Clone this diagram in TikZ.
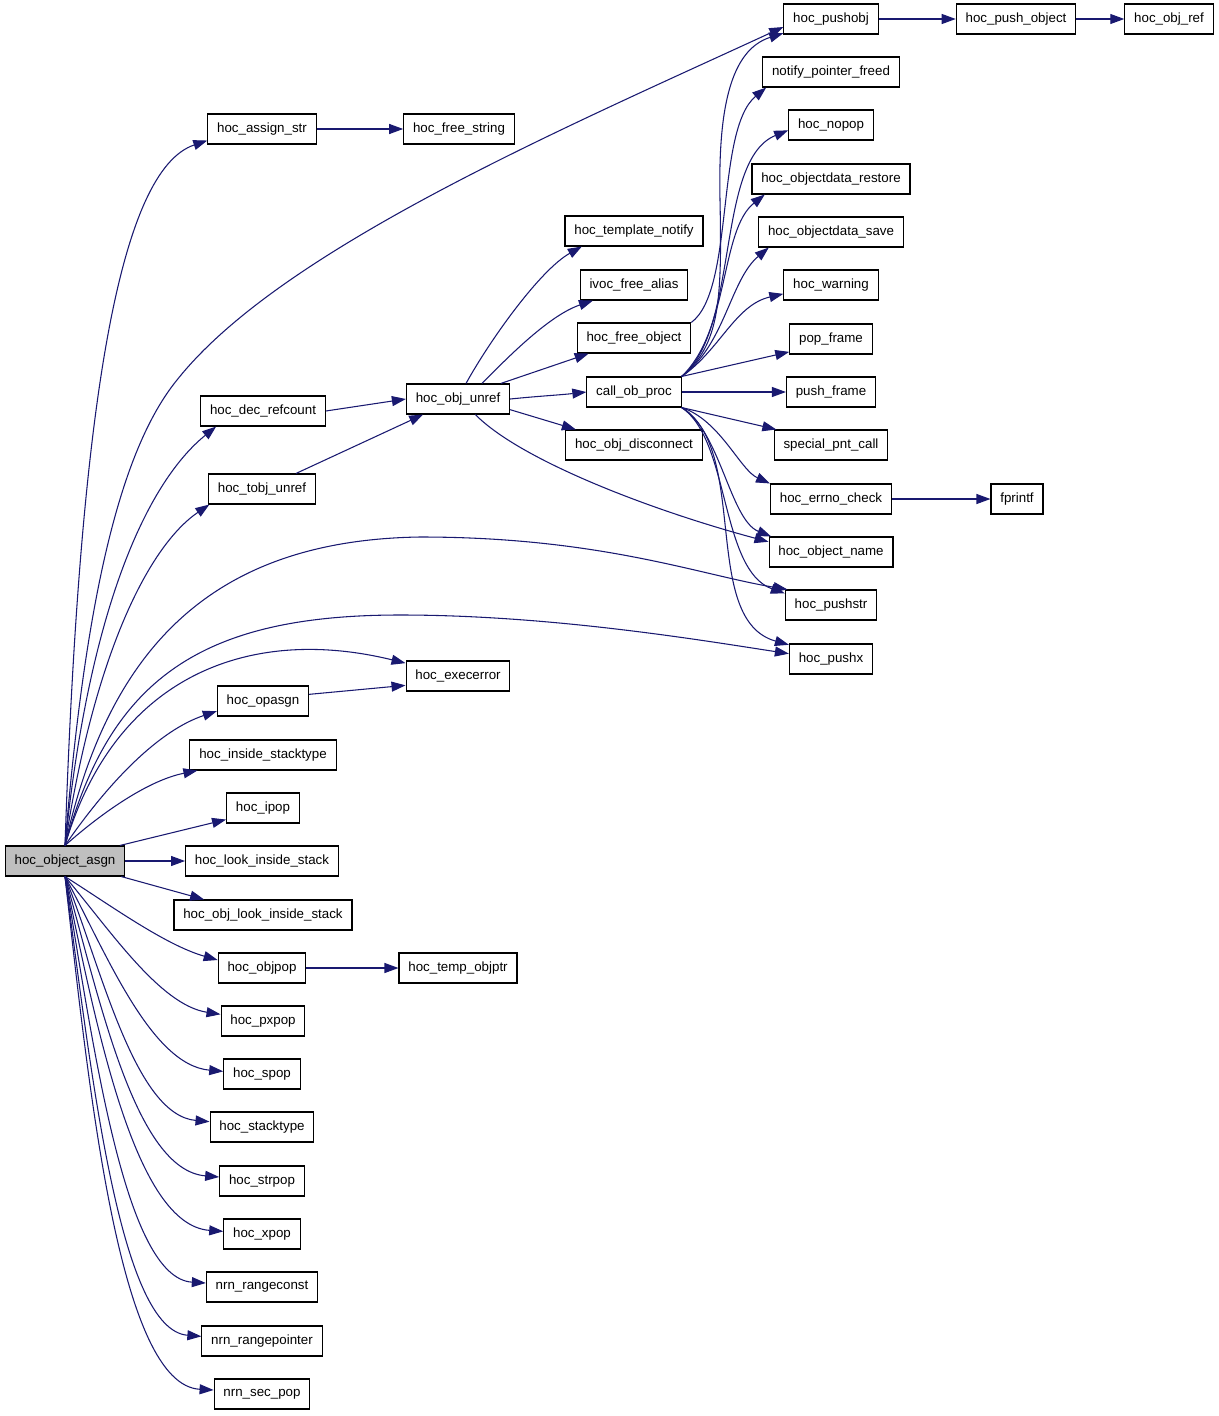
\documentclass[tikz,border=0pt]{standalone}
\usepackage{fontspec}
\setmainfont{Liberation Sans}
\usetikzlibrary{arrows.meta}
\definecolor{edgeblue}{HTML}{191970}
\definecolor{rootgray}{HTML}{BFBFBF}

\begin{document}
\begin{tikzpicture}[x=0.75pt,y=-0.75pt,
  fn/.style={draw=black, line width=0.8pt, fill=white, minimum height=22.5pt,
    inner xsep=7pt, inner ysep=0pt, font=\fontsize{10}{12}\selectfont},
  root/.style={fn, fill=rootgray},
  call/.style={draw=edgeblue, line width=0.8pt, -{Triangle[length=10.5pt,width=7.5pt]}}]
\useasboundingbox (0,0) rectangle (1219,1416);

%NODES
%Root
\node[root] (asgn) at (65,861) {hoc\_object\_asgn};

%Column 2
\foreach \n/\x/\y/\t in {assignstr/262/129/hoc\_assign\_str, decrefcount/263/411/hoc\_dec\_refcount,
  tobjunref/262/489/hoc\_tobj\_unref, opasgn/263/701/hoc\_opasgn,
  insidestacktype/263/755/hoc\_inside\_stacktype, ipop/263/808/hoc\_ipop,
  lookinside/262/861/hoc\_look\_inside\_stack, objlookinside/263/915/hoc\_obj\_look\_inside\_stack,
  objpop/262/968/hoc\_objpop, pxpop/263/1021/hoc\_pxpop, spop/262/1074/hoc\_spop,
  stacktype/262/1127/hoc\_stacktype, strpop/262/1181/hoc\_strpop, xpop/262/1234/hoc\_xpop,
  rangeconst/262/1287/nrn\_rangeconst, rangepointer/262/1341/nrn\_rangepointer,
  secpop/262/1394/nrn\_sec\_pop}
  \node[fn] (\n) at (\x,\y) {\t};

%Column 3
\node[fn] (freestring) at (459,129) {hoc\_free\_string};
\node[fn] (objunref) at (458,399) {hoc\_obj\_unref};
\node[fn] (execerror) at (458,676) {hoc\_execerror};
\node[fn] (tempobjptr) at (458,968) {hoc\_temp\_objptr};

%Column 4
\foreach \n/\y/\t in {templatenotify/231/hoc\_template\_notify, freealias/285/ivoc\_free\_alias,
  freeobject/338/hoc\_free\_object, callobproc/392/call\_ob\_proc,
  objdisconnect/445/hoc\_obj\_disconnect}
  \node[fn] (\n) at (634,\y) {\t};

%Column 5
\foreach \n/\y/\t in {pushobj/19/hoc\_pushobj, notifyfreed/72/notify\_pointer\_freed,
  nopop/125/hoc\_nopop, odrestore/179/hoc\_objectdata\_restore,
  odsave/232/hoc\_objectdata\_save, warning/285/hoc\_warning, popframe/339/pop\_frame,
  pushframe/392/push\_frame, specialpnt/445/special\_pnt\_call,
  errnocheck/499/hoc\_errno\_check, objectname/552/hoc\_object\_name,
  pushstr/605/hoc\_pushstr, pushx/659/hoc\_pushx}
  \node[fn] (\n) at (831,\y) {\t};

%Columns 6 and 7
\node[fn] (pushobject) at (1016,19) {hoc\_push\_object};
\node[fn] (objref) at (1169,19) {hoc\_obj\_ref};
\node[fn] (fprintf) at (1017,499) {fprintf};

%EDGES
%Straight calls
\foreach \a/\b in {assignstr/freestring, pushobj/pushobject, pushobject/objref,
  errnocheck/fprintf, objpop/tempobjptr, asgn/lookinside, callobproc/pushframe,
  decrefcount/objunref}
  \draw[call] (\a.east) -- (\b.west);
\draw[call] ([xshift=-15pt]tobjunref.north east) -- ([xshift=13pt]objunref.south west);
\draw[call] ([yshift=5pt]opasgn.east) -- ([yshift=-7pt]execerror.west);
\draw[call] ([xshift=-4pt]asgn.north east) -- ([yshift=3pt]ipop.south west);
\draw[call] ([xshift=-3pt]asgn.south east) -- ([xshift=23pt]objlookinside.north west);

%Root, upwards
\draw[call] (asgn.north) .. controls (80,400) and (120,170) .. ([yshift=3pt]assignstr.south west);
\draw[call] (asgn.north) .. controls (85,600) and (120,450) .. (177,380)
  .. controls (280,250) and (560,130) .. ([yshift=-6pt]pushobj.west);
\draw[call] (asgn.north) .. controls (90,600) and (150,480) .. ([xshift=12pt]decrefcount.south west);
\draw[call] (asgn.north) .. controls (95,650) and (150,545) .. ([xshift=1pt]tobjunref.south west);
\draw[call] (asgn.north) .. controls (110,640) and (220,540) .. (420,537)
  .. controls (600,537) and (700,575) .. ([xshift=2pt]pushstr.north west);
\draw[call] (asgn.north) .. controls (110,680) and (200,615) .. (400,615)
  .. controls (550,615) and (700,640) .. ([yshift=4pt]pushx.west);
\draw[call] (asgn.north) .. controls (115,675) and (250,625) .. ([yshift=-2pt]execerror.north west);
\draw[call] (asgn.north) .. controls (110,780) and (160,730) .. ([yshift=4pt]opasgn.south west);
\draw[call] (asgn.north) .. controls (105,810) and (150,780) .. ([xshift=6pt]insidestacktype.south west);

%Root, downwards
\foreach \n/\ax/\ay/\bx/\by/\s in {objpop/110/905/165/945/6, pxpop/110/930/160/1005/5,
  spop/105/950/150/1065/2, stacktype/102/970/135/1115/4, strpop/100/1000/135/1170/3,
  xpop/97/1030/135/1225/2, rangeconst/94/1050/125/1278/3,
  rangepointer/92/1080/120/1330/3.5, secpop/90/1100/120/1385/3}
  \draw[call] (asgn.south) .. controls (\ax,\ay) and (\bx,\by) .. ([yshift=\s pt]\n.west);

%hoc_obj_unref
\draw[call] ([xshift=6pt]objunref.north) .. controls (490,340) and (540,270) .. ([xshift=13pt]templatenotify.south west);
\draw[call] ([xshift=18pt]objunref.north) .. controls (510,355) and (550,315) .. ([xshift=10pt]freealias.south west);
\draw[call] ([xshift=-7pt]objunref.north east) -- ([xshift=9pt]freeobject.south west);
\draw[call] (objunref.east) .. controls (540,396) and (560,395) .. (callobproc.west);
\draw[call] ([yshift=-8pt]objunref.east) -- ([xshift=8pt]objdisconnect.north west);
\draw[call] ([xshift=13pt]objunref.south) .. controls (520,460) and (650,510) .. ([yshift=-4pt]objectname.north west);

%hoc_free_object
\draw[call] (freeobject.north east) .. controls (735,290) and (715,130) .. ([xshift=3pt]notifyfreed.south west);

%call_ob_proc
\draw[call] (callobproc.north east) .. controls (720,345) and (722,300) .. (720,200)
  .. controls (718,110) and (730,50) .. ([yshift=1pt]pushobj.south west);
\draw[call] (callobproc.north east) .. controls (740,330) and (715,160) .. ([yshift=-4pt]nopop.west);
\draw[call] (callobproc.north east) .. controls (730,330) and (720,230) .. ([xshift=10pt]odrestore.south west);
\draw[call] (callobproc.north east) .. controls (725,345) and (730,280) .. ([xshift=8pt]odsave.south west);
\draw[call] (callobproc.north east) .. controls (720,350) and (735,305) .. ([yshift=5pt]warning.south west);
\draw[call] (callobproc.north east) -- ([yshift=2pt]popframe.south west);
\draw[call] (callobproc.south east) -- ([xshift=2pt]specialpnt.north west);
\draw[call] (callobproc.south east) .. controls (720,420) and (740,470) .. (errnocheck.north west);
\draw[call] (callobproc.south east) .. controls (720,430) and (730,520) .. ([xshift=2pt]objectname.north west);
\draw[call] (callobproc.south east) .. controls (730,440) and (720,570) .. ([yshift=-3pt]pushstr.north west);
\draw[call] (callobproc.south east) .. controls (750,450) and (700,620) .. ([yshift=-1pt]pushx.north west);

\end{tikzpicture}
\end{document}
